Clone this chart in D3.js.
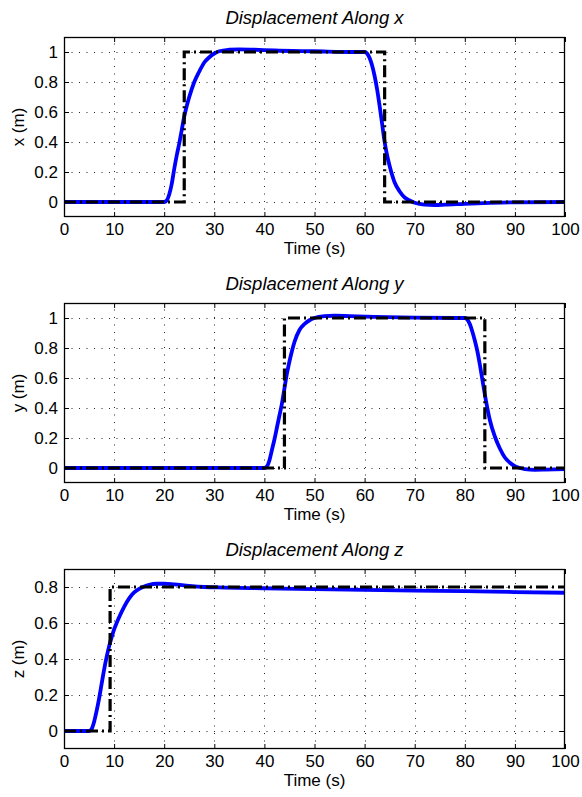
<!DOCTYPE html>
<html>
<head>
<meta charset="utf-8">
<script src="https://cdn.jsdelivr.net/npm/d3@7"></script>
<style>
html,body{margin:0;padding:0;background:#fff;}
svg{display:block;font-family:"Liberation Sans",Arial,Helvetica,sans-serif;}
</style>
</head>
<body>
<svg id="chart" width="582" height="797"></svg>
<script>
// ---------- data ----------
const xTicks = [0,10,20,30,40,50,60,70,80,90,100];
const xyTicks = [0,0.2,0.4,0.6,0.8,1];
const zTicks = [0,0.2,0.4,0.6,0.8];
const titles = ["Displacement Along x","Displacement Along y","Displacement Along z"];
const yLabels = ["x (m)","y (m)","z (m)"];
const xLabel = "Time (s)";

// reference (step) signals
const xRefT = [0,24,24,64,64,100];
const xRefV = [0,0,1,1,0,0];
const yRefT = [0,44,44,84,84,100];
const yRefV = [0,0,1,1,0,0];
const zRefT = [0,9.2,9.2,100];
const zRefV = [0,0,0.8,0.8];

// actual responses
const xActT = [0,20,20.5,21,21.5,22,22.5,23,23.5,24,24.5,25,26,27,28,29,30,31,33,35,38,42,50,58,60,60.5,61,61.5,62,62.5,63,63.5,64,64.5,65,66,67,68,69,70,71,72,74,76,80,85,90,100];
const xActV = [0,0,0.01,0.05,0.12,0.22,0.31,0.39,0.48,0.57,0.64,0.70,0.80,0.87,0.93,0.965,0.99,1.005,1.015,1.018,1.015,1.01,1.005,1.0,1.0,0.99,0.96,0.91,0.84,0.75,0.64,0.52,0.40,0.31,0.24,0.13,0.07,0.03,0.01,-0.005,-0.013,-0.018,-0.02,-0.018,-0.012,-0.006,-0.002,0];

const yActT = [0,40,40.5,41,41.5,42,42.5,43,43.5,44,44.5,45,45.5,46,47,48,49,50,52,54,57,62,70,78,80,80.5,81,81.5,82,82.5,83,83.5,84,84.5,85,86,87,88,89,90,91,92,94,96,100];
const yActV = [0,0,0.01,0.05,0.12,0.19,0.27,0.35,0.43,0.53,0.63,0.71,0.78,0.84,0.92,0.96,0.985,1.0,1.012,1.015,1.012,1.007,1.002,1.0,1.0,0.99,0.96,0.91,0.85,0.78,0.69,0.59,0.49,0.40,0.32,0.21,0.13,0.07,0.035,0.012,0,-0.008,-0.012,-0.011,-0.008];

const zActT = [0,5,5.5,6,6.5,7,7.5,8,8.5,9,9.5,10,10.5,11,12,13,14,15,16,17,18.5,20,22,25,28,32,40,50,60,70,80,90,100];
const zActV = [0,0,0.01,0.05,0.11,0.18,0.26,0.34,0.41,0.47,0.52,0.565,0.60,0.632,0.69,0.737,0.77,0.79,0.803,0.812,0.818,0.818,0.814,0.806,0.80,0.797,0.793,0.788,0.784,0.780,0.777,0.772,0.768];

// ---------- layout ----------
const panels = [
  {top:37, bottom:217, dom:[-0.1,1.1], ticks:xyTicks, refT:xRefT, refV:xRefV, actT:xActT, actV:xActV},
  {top:303, bottom:483, dom:[-0.1,1.1], ticks:xyTicks, refT:yRefT, refV:yRefV, actT:yActT, actV:yActV},
  {top:569, bottom:749, dom:[-0.1,0.9], ticks:zTicks, refT:zRefT, refV:zRefV, actT:zActT, actV:zActV}
];
const L = 64, R = 565;
const svg = d3.select("#chart");
const fmt = d => String(+d.toFixed(2));

panels.forEach((p, i) => {
  const x = d3.scaleLinear().domain([0,100]).range([L,R]);
  const y = d3.scaleLinear().domain(p.dom).range([p.bottom,p.top]);
  const g = svg.append("g");

  // grid
  const grid = g.append("g").attr("stroke","#000").attr("stroke-width",1).attr("stroke-dasharray","1,6.5").attr("opacity",0.85);
  grid.selectAll("line.vx").data(xTicks.slice(1,-1)).join("line")
    .attr("x1",d=>Math.round(x(d))+0.5).attr("x2",d=>Math.round(x(d))+0.5)
    .attr("y1",p.bottom).attr("y2",p.top);
  grid.selectAll("line.hy").data(p.ticks).join("line")
    .attr("y1",d=>Math.round(y(d))+0.5).attr("y2",d=>Math.round(y(d))+0.5)
    .attr("x1",L).attr("x2",R);

  // axes (ticks inside)
  const ax = g.append("g").attr("transform",`translate(0,${p.bottom})`)
    .call(d3.axisBottom(x).tickValues(xTicks).tickSizeInner(-5).tickSizeOuter(0).tickPadding(6).tickFormat(d3.format("d")));
  const axT = g.append("g").attr("transform",`translate(0,${p.top})`)
    .call(d3.axisTop(x).tickValues(xTicks).tickSizeInner(-5).tickSizeOuter(0).tickFormat(""));
  const ayL = g.append("g").attr("transform",`translate(${L},0)`)
    .call(d3.axisLeft(y).tickValues(p.ticks).tickSizeInner(-5).tickSizeOuter(0).tickPadding(6).tickFormat(fmt));
  const ayR = g.append("g").attr("transform",`translate(${R},0)`)
    .call(d3.axisRight(y).tickValues(p.ticks).tickSizeInner(-5).tickSizeOuter(0).tickFormat(""));
  [ax,axT,ayL,ayR].forEach(a=>{
    a.select(".domain").remove();
    a.selectAll(".tick line").attr("stroke","#000").attr("stroke-width",1);
    a.selectAll(".tick text").attr("font-size",17).attr("fill","#000").attr("font-family","Liberation Sans, Arial, sans-serif");
  });

  // lines
  const actData = p.actT.map((t,k)=>[t,p.actV[k]]);
  const refData = p.refT.map((t,k)=>[t,p.refV[k]]);
  const clipId = "clip"+i;
  svg.append("clipPath").attr("id",clipId).append("rect")
    .attr("x",L).attr("y",p.top).attr("width",R-L).attr("height",p.bottom-p.top);
  const lines = g.append("g").attr("clip-path",`url(#${clipId})`);
  lines.append("path").datum(actData)
    .attr("d", d3.line().x(d=>x(d[0])).y(d=>y(d[1])).curve(d3.curveMonotoneX))
    .attr("fill","none").attr("stroke","#0000ff").attr("stroke-width",3.8).attr("stroke-linejoin","round");
  lines.append("path").datum(refData)
    .attr("d", d3.line().x(d=>x(d[0])).y(d=>y(d[1])))
    .attr("fill","none").attr("stroke","#000").attr("stroke-width",3.2).attr("stroke-dasharray","12,4,2,4");

  // box
  g.append("rect").attr("x",L+0.5).attr("y",p.top+0.5).attr("width",R-L-1).attr("height",p.bottom-p.top-1)
    .attr("fill","none").attr("stroke","#000").attr("stroke-width",1.3);

  // title
  g.append("text").attr("x",(L+R)/2).attr("y",p.top-13).attr("text-anchor","middle")
    .attr("font-size",18.5).attr("font-style","italic").text(titles[i]);
  // x label
  g.append("text").attr("x",(L+R)/2).attr("y",p.bottom+37).attr("text-anchor","middle")
    .attr("font-size",17).text(xLabel);
  // y label
  g.append("text").attr("transform",`translate(24,${(p.top+p.bottom)/2}) rotate(-90)`)
    .attr("text-anchor","middle").attr("font-size",17).text(yLabels[i]);
});
</script>
</body>
</html>
